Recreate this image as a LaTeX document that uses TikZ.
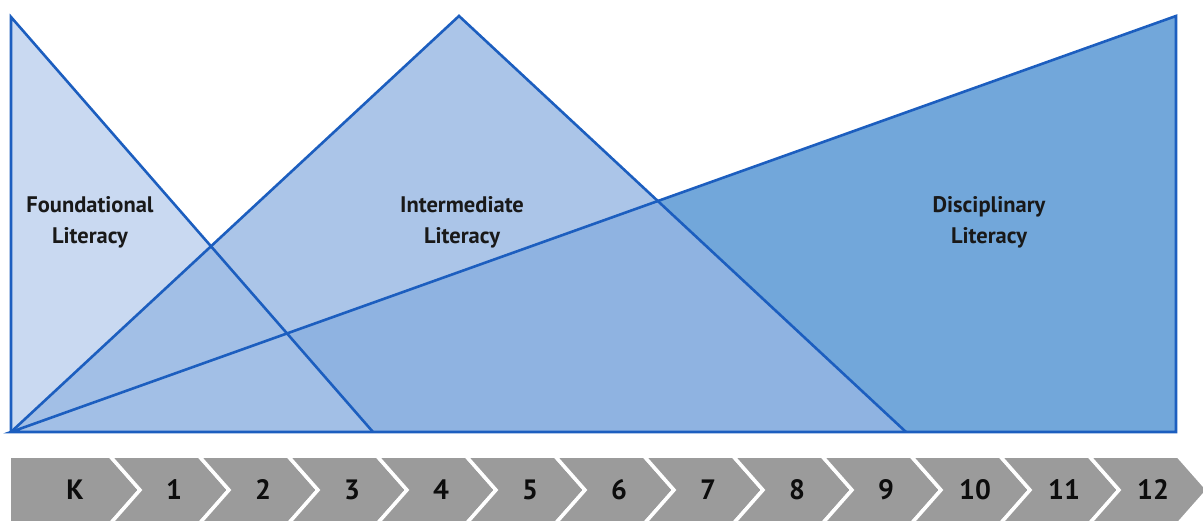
\documentclass[tikz,border=0pt]{standalone}
\usepackage{fontspec}
\setmainfont{PT Sans}
\definecolor{edgeblue}{HTML}{1C5EBF}
\definecolor{fF}{HTML}{C9D9F1}
\definecolor{fFI}{HTML}{A2BFE6}
\definecolor{fI}{HTML}{ABC5E8}
\definecolor{fID}{HTML}{8FB3E1}
\definecolor{fD}{HTML}{72A7DA}
\definecolor{chev}{HTML}{9B9B9B}
\tikzset{
  edge/.style={draw=edgeblue, line width=2.6pt, line join=miter},
  lbl/.style={font=\bfseries\fontsize{22.5}{31}\selectfont, align=center, text=black!90},
  gradelbl/.style={font=\bfseries\fontsize{28}{28}\selectfont, text=black!95},
  chevshape/.style={fill=chev, draw=white, line width=3.5pt, line join=miter}
}
\begin{document}
\begin{tikzpicture}[x=1pt,y=-1pt]
\useasboundingbox (0,0) rectangle (1203,521);
% corner points
\coordinate (O) at (11,432);
\coordinate (Ftop) at (11,17);
\coordinate (Fr) at (373,432);
\coordinate (Iapex) at (459,16);
\coordinate (Ir) at (906,432);
\coordinate (Dtop) at (1176,16);
\coordinate (Dr) at (1176,432);
% fills
\fill[fD] (O) -- (Dtop) -- (Dr) -- cycle;
\fill[fI] (O) -- (Iapex) -- (Ir) -- cycle;
\begin{scope}
  \clip (O) -- (Dtop) -- (Dr) -- cycle;
  \fill[fID] (O) -- (Iapex) -- (Ir) -- cycle;
\end{scope}
\fill[fF] (O) -- (Ftop) -- (Fr) -- cycle;
\begin{scope}
  \clip (O) -- (Ftop) -- (Fr) -- cycle;
  \fill[fFI] (O) -- (Iapex) -- (Ir) -- cycle;
\end{scope}
% outlines
\draw[edge] (O) -- (Dtop) -- (Dr) -- cycle;
\draw[edge] (O) -- (Iapex) -- (Ir);
\draw[edge] (O) -- (Ftop) -- (Fr);
% labels
\node[lbl] (found) at (90,222) {Foundational\\Literacy};
\node[lbl] (inter) at (462,222) {Intermediate\\Literacy};
\node[lbl] (disc) at (989,222) {Disciplinary\\Literacy};
% chevrons
\path[chevshape] (9,456) -- (110,456) -- (140,490) -- (110,524) -- (9,524) -- cycle;
\foreach \i in {1,...,12}{
  \pgfmathsetmacro{\xl}{110+(\i-1)*89}
  \pgfmathsetmacro{\xr}{110+\i*89}
  \path[chevshape] (\xl,456) -- (\xr,456) -- (\xr+30,490) -- (\xr,524) -- (\xl,524) -- (\xl+30,490) -- cycle;
}
\node[gradelbl] (gK) at (75,490) {K};
\foreach \i in {1,...,12}{
  \node[gradelbl] (g\i) at (174+\i*89-89,490) {\i};
}
\end{tikzpicture}
\end{document}
